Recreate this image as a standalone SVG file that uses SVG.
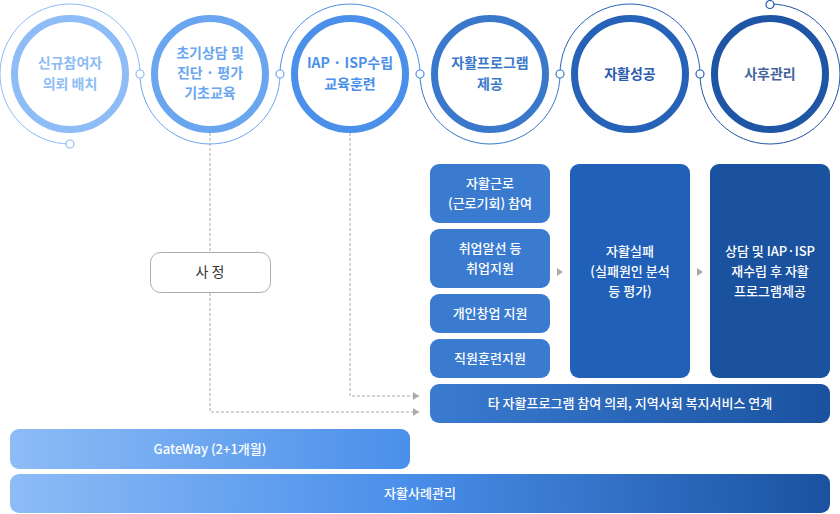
<svg xmlns="http://www.w3.org/2000/svg" width="840" height="514" viewBox="0 0 840 514">
<defs>
<style>
.ring{fill:#fff;stroke-width:7}
.arc{fill:none;stroke-width:1}
.dot{fill:#fff;stroke-width:1.2}
.ct{font-family:"Noto Sans CJK KR","Noto Sans",sans-serif;font-size:14px;font-weight:700;text-anchor:middle}
.bt{font-family:"Noto Sans CJK KR","Noto Sans",sans-serif;font-size:13px;font-weight:500;fill:#fff;text-anchor:middle}
.dash{fill:none;stroke:#aaa;stroke-width:1;stroke-dasharray:3 2}
.tri{fill:#aaa}
</style>
<linearGradient id="gw" x1="0" y1="0" x2="1" y2="0">
<stop offset="0" stop-color="#8dbcf6"/>
<stop offset="1" stop-color="#4a8fea"/>
</linearGradient>
<linearGradient id="gb" x1="0" y1="0" x2="1" y2="0">
<stop offset="0" stop-color="#8dbcf6"/>
<stop offset="0.48" stop-color="#4a8fea"/>
<stop offset="1" stop-color="#1a52a0"/>
</linearGradient>
<linearGradient id="gt" x1="0" y1="0" x2="1" y2="0">
<stop offset="0" stop-color="#3a7bd0"/>
<stop offset="1" stop-color="#1a52a0"/>
</linearGradient>
<marker id="ah" viewBox="0 0 6 8" refX="6" refY="4" markerWidth="6" markerHeight="8" markerUnits="userSpaceOnUse" orient="auto">
<path d="M0,0 L6,4 L0,8 Z" fill="#aaa"/>
</marker>
</defs>

<g id="connectors">
<path class="arc" stroke="#8dbcf6" d="M70,144 A70,70 0 1 1 140,74"/>
<path class="arc" stroke="#6aa6f0" d="M140,74 A70,70 0 0 0 280,74"/>
<path class="arc" stroke="#4a8fea" d="M280,74 A70,70 0 0 1 420,74"/>
<path class="arc" stroke="#3a78cc" d="M420,74 A70,70 0 0 0 560,74"/>
<path class="arc" stroke="#2562b8" d="M560,74 A70,70 0 0 1 700,74"/>
<path class="arc" stroke="#1e55a5" d="M700,74 A70,70 0 1 0 770,4"/>
<circle class="dot" stroke="#8dbcf6" cx="70" cy="144" r="4"/>
<circle class="dot" stroke="#8dbcf6" cx="140" cy="74" r="4"/>
<circle class="dot" stroke="#6aa6f0" cx="280" cy="74" r="4"/>
<circle class="dot" stroke="#4a8fea" cx="420" cy="74" r="4"/>
<circle class="dot" stroke="#3a78cc" cx="560" cy="74" r="4"/>
<circle class="dot" stroke="#2562b8" cx="700" cy="74" r="4"/>
<circle class="dot" stroke="#1e55a5" cx="770" cy="4.5" r="4"/>
<path class="dash" d="M210,133 V412 H419" marker-end="url(#ah)"/>
<path class="dash" d="M350,133 V396 H419" marker-end="url(#ah)"/>
<polygon class="tri" points="557,268 563,272 557,276"/>
<polygon class="tri" points="697,268 703,272 697,276"/>
</g>

<g id="n1">
<circle class="ring" stroke="#8dbcf6" cx="70" cy="74" r="55.5"/>
<text class="ct" fill="#8dbcf6" x="70" y="68">신규참여자</text>
<text class="ct" fill="#8dbcf6" x="70" y="89">의뢰 배치</text>
</g>
<g id="n2">
<circle class="ring" stroke="#6aa6f0" cx="210" cy="74" r="55.5"/>
<text class="ct" fill="#6aa6f0" x="210" y="58">초기상담 및</text>
<text class="ct" fill="#6aa6f0" x="210" y="78">진단 · 평가</text>
<text class="ct" fill="#6aa6f0" x="210" y="98">기초교육</text>
</g>
<g id="n3">
<circle class="ring" stroke="#4a8fea" cx="350" cy="74" r="55.5"/>
<text class="ct" fill="#4a8fea" x="350" y="68">IAP · ISP수립</text>
<text class="ct" fill="#4a8fea" x="350" y="89">교육훈련</text>
</g>
<g id="n4">
<circle class="ring" stroke="#3a78cc" cx="490" cy="74" r="55.5"/>
<text class="ct" fill="#3a78cc" x="490" y="68">자활프로그램</text>
<text class="ct" fill="#3a78cc" x="490" y="89">제공</text>
</g>
<g id="n5">
<circle class="ring" stroke="#2562b8" cx="630" cy="74" r="55.5"/>
<text class="ct" fill="#2a5cae" x="630" y="79">자활성공</text>
</g>
<g id="n6">
<circle class="ring" stroke="#1e55a5" cx="770" cy="74" r="55.5"/>
<text class="ct" fill="#44659c" x="770" y="79">사후관리</text>
</g>

<g id="n-sajeong">
<rect x="150.5" y="252.5" width="120" height="40" rx="10" fill="#fff" stroke="#aaa" stroke-width="1"/>
<text x="210" y="277" font-family="'Noto Sans CJK KR','Noto Sans',sans-serif" font-size="14" fill="#333" text-anchor="middle">사 정</text>
</g>

<g id="b1">
<rect x="430" y="164" width="120" height="59" rx="9" fill="#3a7bd0"/>
<text class="bt" x="490" y="188">자활근로</text>
<text class="bt" x="490" y="208">(근로기회) 참여</text>
</g>
<g id="b2">
<rect x="430" y="229" width="120" height="59" rx="9" fill="#3a7bd0"/>
<text class="bt" x="490" y="253">취업알선 등</text>
<text class="bt" x="490" y="273">취업지원</text>
</g>
<g id="b3">
<rect x="430" y="294" width="120" height="39" rx="9" fill="#3a7bd0"/>
<text class="bt" x="490" y="318">개인창업 지원</text>
</g>
<g id="b4">
<rect x="430" y="339" width="120" height="39" rx="9" fill="#3a7bd0"/>
<text class="bt" x="490" y="363">직원훈련지원</text>
</g>
<g id="b5">
<rect x="570" y="164" width="120" height="214" rx="9" fill="#2060b8"/>
<text class="bt" x="630" y="256">자활실패</text>
<text class="bt" x="630" y="276">(실패원인 분석</text>
<text class="bt" x="630" y="296">등 평가)</text>
</g>
<g id="b6">
<rect x="710" y="164" width="120" height="214" rx="9" fill="#1a52a0"/>
<text class="bt" x="770" y="256">상담 및 IAP·ISP</text>
<text class="bt" x="770" y="276">재수립 후 자활</text>
<text class="bt" x="770" y="296">프로그램제공</text>
</g>
<g id="b7">
<rect x="430" y="384" width="400" height="39" rx="9" fill="url(#gt)"/>
<text class="bt" x="630" y="408">타 자활프로그램 참여 의뢰, 지역사회 복지서비스 연계</text>
</g>
<g id="gateway">
<rect x="10" y="429" width="400" height="40" rx="9" fill="url(#gw)"/>
<text class="bt" x="210" y="454">GateWay (2+1개월)</text>
</g>
<g id="casemgmt">
<rect x="10" y="474" width="820" height="39" rx="9" fill="url(#gb)"/>
<text class="bt" x="420" y="498">자활사례관리</text>
</g>
</svg>
